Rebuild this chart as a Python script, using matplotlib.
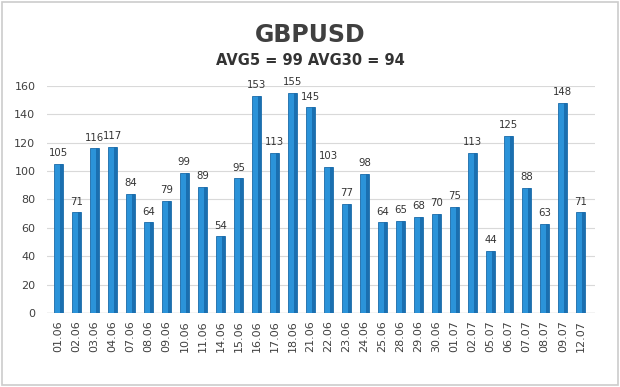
import matplotlib.pyplot as plt
import numpy as np

dates = ['01.06', '02.06', '03.06', '04.06', '07.06', '08.06', '09.06', '10.06',
         '11.06', '14.06', '15.06', '16.06', '17.06', '18.06', '21.06', '22.06',
         '23.06', '24.06', '25.06', '28.06', '29.06', '30.06', '01.07', '02.07',
         '05.07', '06.07', '07.07', '08.07', '09.07', '12.07']
values = [105, 71, 116, 117, 84, 64, 79, 99, 89, 54, 95, 153, 113, 155, 145,
          103, 77, 98, 64, 65, 68, 70, 75, 113, 44, 125, 88, 63, 148, 71]

fig = plt.figure(figsize=(6.2, 3.87), dpi=100)
ax = fig.add_axes([0.075, 0.191, 0.885, 0.587])

x = np.arange(len(values))
# main face and darker side to fake the 3d look
ax.bar(x, values, width=0.5, color='#2b93d9', edgecolor='#1b6aa8', linewidth=0.6, zorder=3)
ax.bar(x + 0.17, values, width=0.16, color='#1a6fb0', linewidth=0, zorder=4)

for xi, v in zip(x, values):
    ax.text(xi, v + 4, str(v), ha='center', va='bottom', fontsize=7.3,
            color='#333333', clip_on=False)

ax.set_xlim(-0.65, len(values) - 0.2)
ax.set_ylim(0, 160)
ax.set_yticks(range(0, 161, 20))
ax.set_xticks(x)
ax.set_xticklabels(dates, rotation=90, fontsize=8, color='#404040')
ax.tick_params(axis='y', labelsize=8, colors='#404040', length=0, pad=8)
ax.tick_params(axis='x', length=0, pad=5)
ax.grid(axis='y', color='#d9d9d9', linewidth=0.8, zorder=0)
for s in ax.spines.values():
    s.set_visible(False)
ax.axhline(0, color='#d0d0d0', linewidth=1, zorder=2)

fig.text(0.5, 0.91, 'GBPUSD', ha='center', va='center', fontsize=17,
         fontweight='bold', color='#404040')
fig.text(0.5, 0.843, 'AVG5 = 99 AVG30 = 94', ha='center', va='center',
         fontsize=10.5, fontweight='bold', color='#333333')

fig.patches.append(plt.Rectangle((0.003, 0.004), 0.994, 0.992, transform=fig.transFigure,
                                 fill=False, edgecolor='#cccccc', linewidth=1.2))

fig.savefig('out.png', dpi=100)
